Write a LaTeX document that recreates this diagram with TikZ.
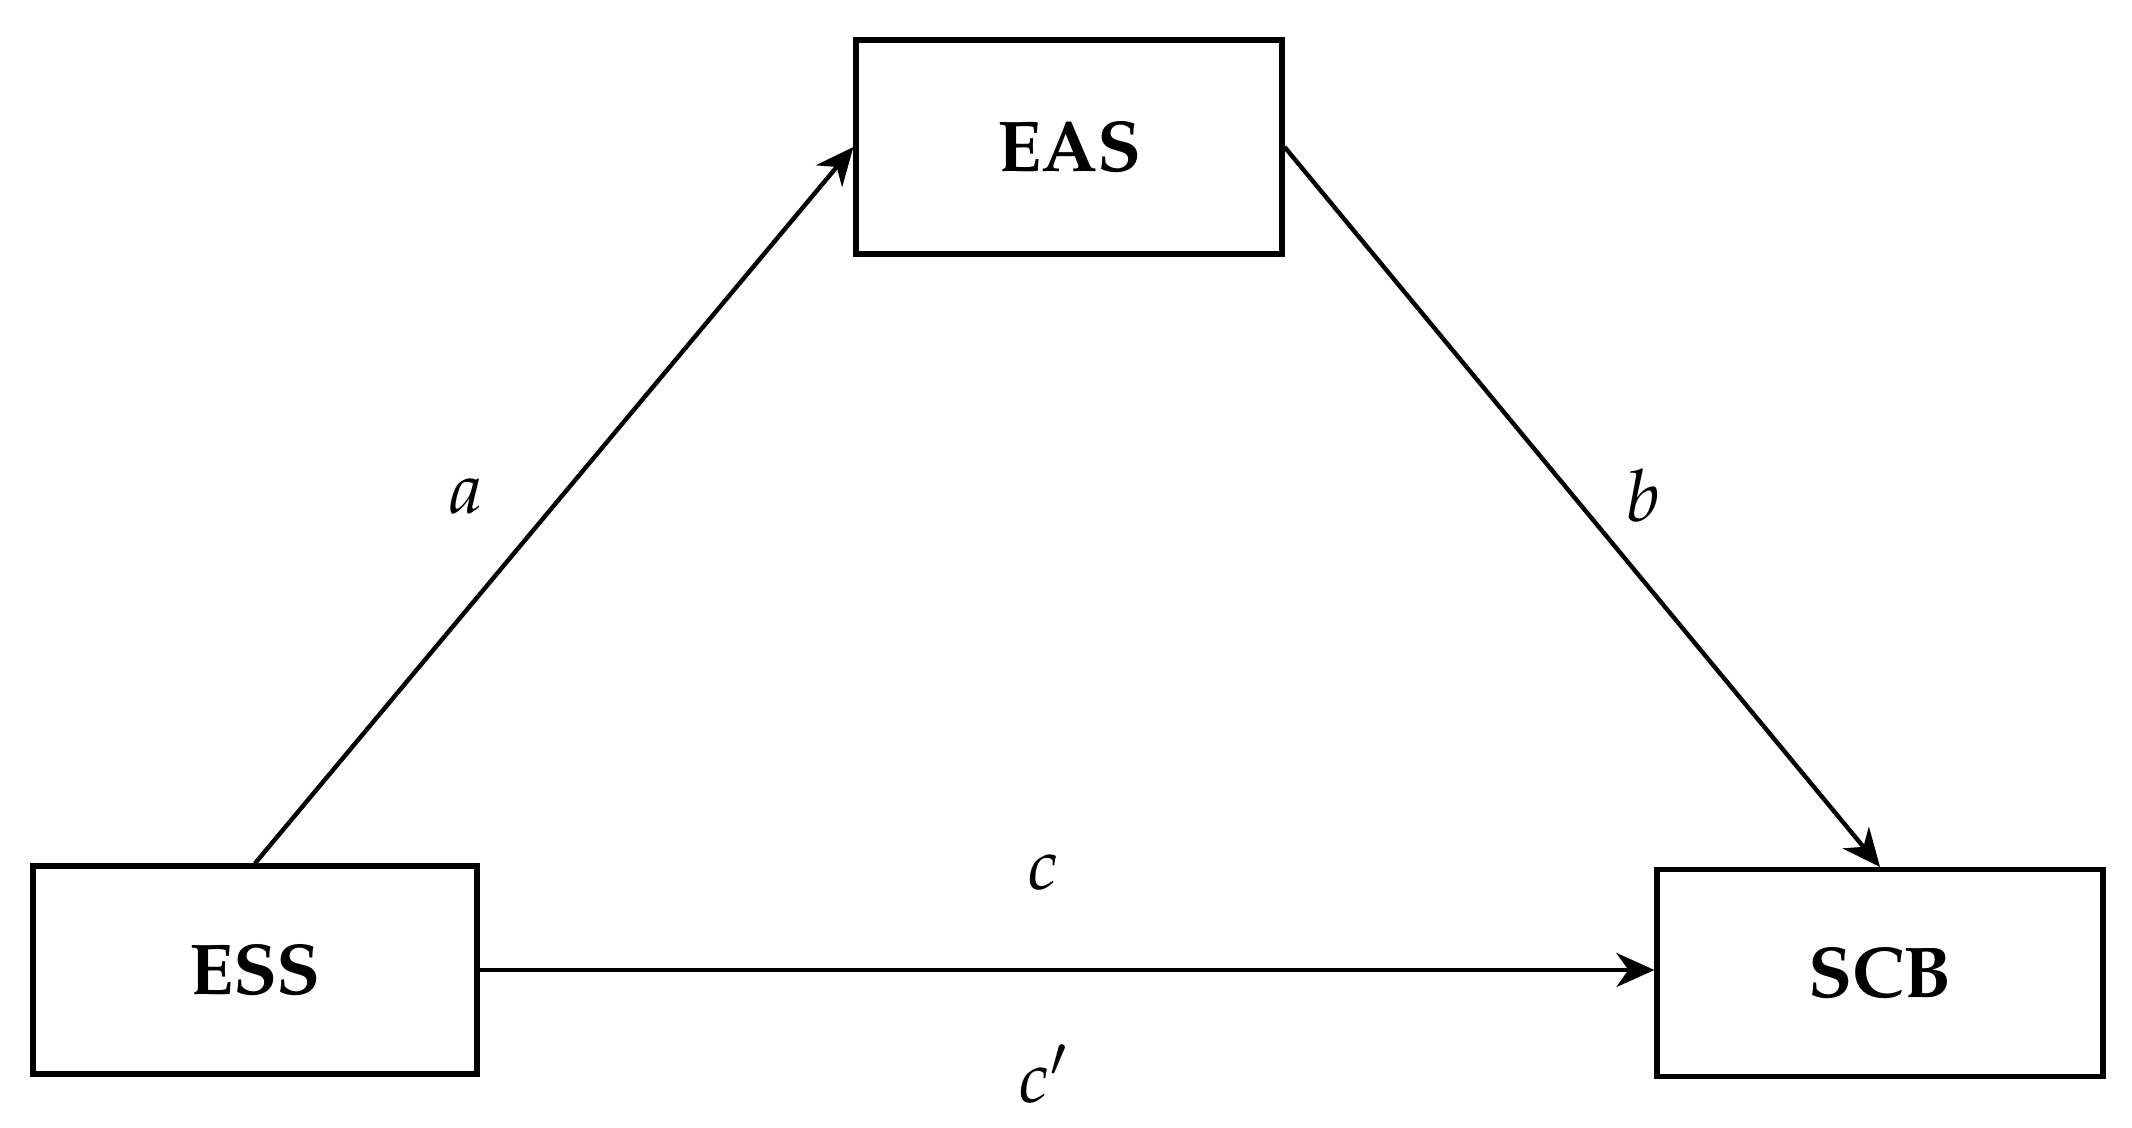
\documentclass[tikz,border=0pt]{standalone}
\usepackage[T1]{fontenc}
\usepackage{mathpazo}
\usetikzlibrary{arrows.meta}
\begin{document}
\begin{tikzpicture}[x=0.5pt,y=-0.5pt,
  varbox/.style={draw, line width=2.6pt, inner sep=0pt, font=\fontsize{36}{42}\selectfont\bfseries},
  lbl/.style={font=\fontsize{36}{42}\selectfont},
  link/.style={line width=2.2pt, -{Stealth[length=19pt,width=17pt,inset=6pt]}}]
\useasboundingbox (0,0) rectangle (2132,1128);
\node[varbox, minimum width=213pt, minimum height=107pt] (eas) at (1069,147) {EAS};
\node[varbox, minimum width=222pt, minimum height=104pt] (ess) at (255,970) {ESS};
\node[varbox, minimum width=223pt, minimum height=103.5pt] (scb) at (1880,973) {SCB};
\draw[link] (ess.north) -- (eas.west);
\draw[link] (eas.east) -- (scb.north);
\draw[link] (ess.east) -- (scb.west |- ess.east);
\node[lbl] (la) at (466,496) {$a$};
\node[lbl] (lb) at (1643,496) {$b$};
\node[lbl] (lc) at (1043,872) {$c$};
\node[lbl] (lcp) at (1043,1074) {$c'$};
\end{tikzpicture}
\end{document}
